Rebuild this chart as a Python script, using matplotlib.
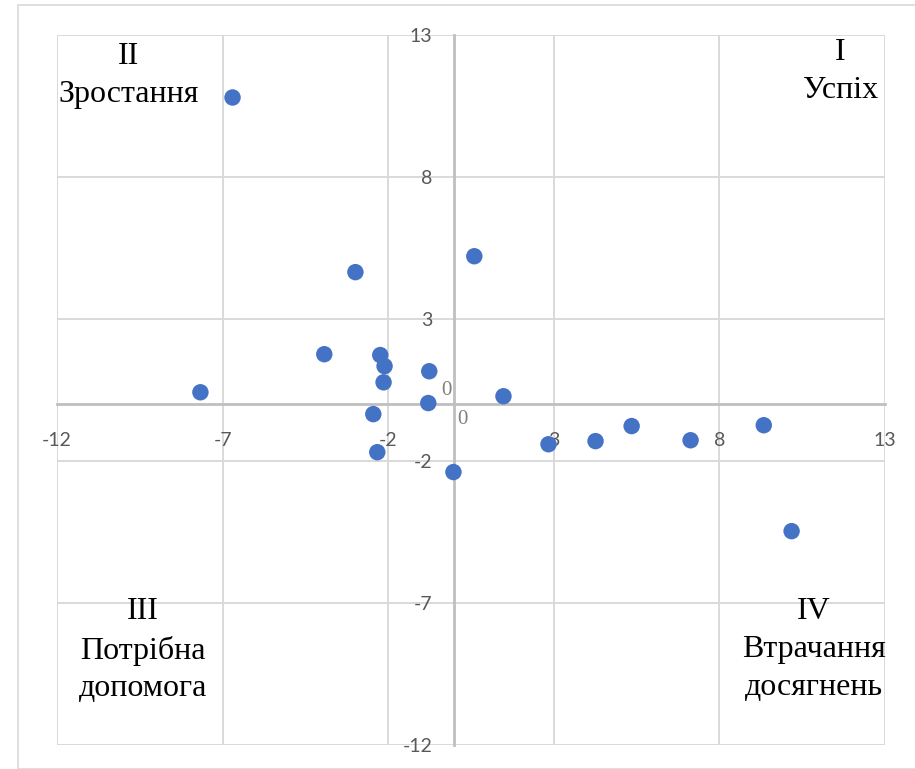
import matplotlib.pyplot as plt
from matplotlib.patches import Rectangle

# values
x = [-6.7, -7.67, -2.99, 0.60, -3.93, -2.24, -2.11, -2.14, -0.76, -0.79,
     1.48, -2.45, -2.33, -0.03, 2.84, 4.26, 5.35, 7.13, 9.34, 10.18]
y = [10.8, 0.42, 4.65, 5.21, 1.76, 1.73, 1.34, 0.77, 1.16, 0.04,
     0.28, -0.35, -1.69, -2.39, -1.41, -1.30, -0.77, -1.27, -0.74, -4.47]
ticks = [-12, -7, -2, 3, 8, 13]
quad_labels = ['II\nЗростання', 'I\nУспіх', 'III\nПотрібна\nдопомога', 'IV\nВтрачання\nдосягнень']

plt.rcParams['axes.unicode_minus'] = False

fig = plt.figure(figsize=(9.15, 7.69), dpi=100)
fig.patches.append(Rectangle((18/915, 0), 1, 1 - 5/769, transform=fig.transFigure,
                             fill=False, edgecolor='#d9d9d9', linewidth=1.2))
ax = fig.add_axes([57/915, 1 - 745/769, 828/915, 710/769])

ax.set_xlim(-12, 13)
ax.set_ylim(-12, 13)
ax.set_xticks(ticks)
ax.set_yticks(ticks)
ax.grid(True, color='#d9d9d9', linewidth=1.4)
ax.set_axisbelow(True)

for s in ['top', 'right']:
    ax.spines[s].set_visible(False)
ax.spines['left'].set_position(('data', 0))
ax.spines['bottom'].set_position(('data', 0))
ax.spines['left'].set_color('#bfbfbf')
ax.spines['bottom'].set_color('#bfbfbf')
ax.spines['left'].set_linewidth(2)
ax.spines['bottom'].set_linewidth(2)
ax.tick_params(axis='both', length=0, labelsize=14, labelcolor='#595959')
ax.tick_params(axis='y', pad=16)
ax.tick_params(axis='x', pad=20)
for lab in ax.get_xticklabels() + ax.get_yticklabels():
    lab.set_family('Lato')

ax.scatter(x, y, s=140, color='#4472C4', zorder=3, edgecolors='none')

# zero labels near origin
ax.text(-0.25, 0.15, '0', ha='center', va='bottom', fontsize=15,
        family='Liberation Serif', color='#7f7f7f')
ax.text(0.25, -0.2, '0', ha='center', va='top', fontsize=15,
        family='Liberation Serif', color='#7f7f7f')

serif = dict(family='Liberation Serif', fontsize=23, color='black',
             ha='center', va='top', linespacing=1.4)
ax.text(-9.85, 12.75, quad_labels[0], **serif)
ax.text(11.65, 12.9, quad_labels[1], **serif)
ax.text(-9.4, -6.8, quad_labels[2], **serif)
ax.text(10.85, -6.8, quad_labels[3], **serif)

fig.savefig('out.png', dpi=100)
